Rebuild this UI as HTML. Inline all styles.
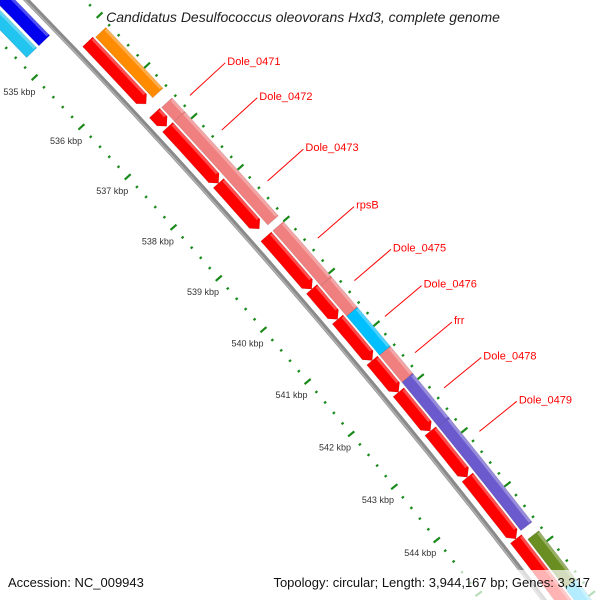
<!DOCTYPE html>
<html><head><meta charset="utf-8"><style>
html,body{margin:0;background:#fff;overflow:hidden;width:600px;height:600px}
svg{display:block;font-family:"Liberation Sans",sans-serif}
</style></head><body>
<svg id="map" width="600" height="600" viewBox="0 0 600 600" xmlns="http://www.w3.org/2000/svg">
<rect width="600" height="600" fill="#fff"/>
<g id="ticks"></g>
<path id="backbone" fill="none" stroke="#8a8a8a" stroke-width="5"/>
<path id="backbone2" fill="none" stroke="#b0b0b0" stroke-width="1.5"/>
<g id="feats"></g>
<g id="labels"></g>
<text x="303" y="22" text-anchor="middle" font-size="14" font-style="italic" fill="#222">Candidatus Desulfococcus oleovorans Hxd3, complete genome</text>
<rect x="0" y="570" width="600" height="30" fill="#fff" fill-opacity="0.7"/>
<text x="8" y="587" font-size="13" fill="#111">Accession: NC_009943</text>
<text x="590" y="587" text-anchor="end" font-size="13" fill="#111">Topology: circular; Length: 3,944,167 bp; Genes: 3,317</text>
</svg>
<script>
const featStart=[533.0,533.0,535.19,535.16,536.59,536.58,536.86,536.86,537.96,539.00,539.00,540.06,540.01,540.64,540.59,541.38,541.37,541.89,541.97,542.72,542.70,543.56,544.81,544.70,545.70];
const featEnd=[534.71,534.71,536.40,536.40,536.91,536.84,538.89,537.96,538.85,540.06,540.01,540.64,540.59,541.38,541.37,541.89,541.97,542.72,542.70,544.65,543.56,544.70,546.50,546.50,546.60];
const featTrack=['blue','cyan','outer','inner','outer','inner','outer','inner','inner','outer','inner','outer','inner','outer','inner','outer','inner','outer','inner','outer','inner','inner','outer','inner','outer'];
const featColor=['#0000ee','#22c4f0','#ff8c00','#ff0000','#f08080','#ff0000','#f08080','#ff0000','#ff0000','#f08080','#ff0000','#f08080','#ff0000','#00bfff','#ff0000','#f08080','#ff0000','#6a5acd','#ff0000','#6a5acd','#ff0000','#ff0000','#6b8e23','#ff0000','#00bfff'];
const featArrow=['start','none','none','end','none','end','none','end','end','none','end','none','end','none','end','none','end','none','end','none','end','end','none','end','none'];
const tickKbp=[534,535,536,537,538,539,540,541,542,543,544,545,546];
const tickLabels=['534 kbp','535 kbp','536 kbp','537 kbp','538 kbp','539 kbp','540 kbp','541 kbp','542 kbp','543 kbp','544 kbp','545 kbp','546 kbp'];
const geneNames=['Dole_0471','Dole_0472','Dole_0473','rpsB','Dole_0475','Dole_0476','frr','Dole_0478','Dole_0479'];
const geneKbp=[536.74,537.42,538.41,539.51,540.32,541.0,541.68,542.34,543.15];

const CX=-4620,CY=4531,A0=-43.13,DEG=0.606;
const R={gray:6490,inner:[6498,6512],outer:[6514,6528],blue:[6467,6482],cyan:[6450,6464],tickIn:6442,tickOut:6532,label:6421};
function ang(k){return (A0+(k-536)*DEG)*Math.PI/180;}
function pt(k,r){const a=ang(k);return [CX+r*Math.cos(a),CY+r*Math.sin(a)];}
function arc(k0,k1,r){const p0=pt(k0,r),p1=pt(k1,r);return `M${p0[0]},${p0[1]} A${r},${r} 0 0 1 ${p1[0]},${p1[1]}`;}
const NS='http://www.w3.org/2000/svg';
document.getElementById('backbone').setAttribute('d',arc(533,546.4,R.gray));
document.getElementById('backbone2').setAttribute('d',arc(533,546.4,R.gray-1.2));

const tg=document.getElementById('ticks');
for(let i=0;i<=70;i++){
  const k=533+i*0.2, big=Math.abs(k-Math.round(k))<0.01;
  [R.tickIn,R.tickOut].forEach(rc=>{
    const h=big?4:1.3;
    const a=pt(k,rc-h),b=pt(k,rc+h);
    const l=document.createElementNS(NS,'line');
    l.setAttribute('x1',a[0]);l.setAttribute('y1',a[1]);l.setAttribute('x2',b[0]);l.setAttribute('y2',b[1]);
    l.setAttribute('stroke','#1a8a1a');l.setAttribute('stroke-width','2.2');
    
    
    tg.appendChild(l);
  });
}
tickKbp.forEach((k,i)=>{
  const p=pt(k,R.label);
  if(p[1]>565||p[1]<0)return;
  const t=document.createElementNS(NS,'text');
  t.setAttribute('x',p[0]);t.setAttribute('y',p[1]+3);
  t.setAttribute('text-anchor','middle');t.setAttribute('font-size','9');t.setAttribute('fill','#333');
  t.textContent=tickLabels[i];
  
  
  tg.appendChild(t);
});

const fg=document.getElementById('feats');
featStart.forEach((s,i)=>{
  const e=featEnd[i],rr=R[featTrack[i]],r0=rr[0],r1=rr[1],rm=(r0+r1)/2,head=0.1;
  let pts=[];
  const seg=(a,b,r)=>{const n=6,o=[];for(let j=0;j<=n;j++)o.push(pt(a+(b-a)*j/n,r));return o;};
  if(featArrow[i]==='end'){
    const hs=e-head;
    pts=[...seg(s,hs,r1),pt(e,rm),...seg(hs,s,r0)];
  }else if(featArrow[i]==='start'){
    const hs=s+head;
    pts=[pt(s,rm),...seg(hs,e,r1),...seg(e,hs,r0)];
  }else{
    pts=[...seg(s,e,r1),...seg(e,s,r0)];
  }
  const p=document.createElementNS(NS,'polygon');
  p.setAttribute('points',pts.map(q=>q[0].toFixed(1)+','+q[1].toFixed(1)).join(' '));
  p.setAttribute('fill',featColor[i]);
  p.setAttribute('stroke','rgba(0,0,0,0.15)');p.setAttribute('stroke-width','0.6');
  
  
  fg.appendChild(p);
  const hl=document.createElementNS(NS,'path');
  hl.setAttribute('d',arc(s+0.02,e-(featArrow[i]==='end'?0.12:0.02),r1-1.5));
  hl.setAttribute('stroke','rgba(255,255,255,0.3)');hl.setAttribute('stroke-width','3');hl.setAttribute('fill','none');
  
  
  fg.appendChild(hl);
});

const lg=document.getElementById('labels');
geneNames.forEach((n,i)=>{
  const a=pt(geneKbp[i],6543),b=pt(geneKbp[i],6591);
  const l=document.createElementNS(NS,'line');
  l.setAttribute('x1',a[0]);l.setAttribute('y1',a[1]);l.setAttribute('x2',b[0]);l.setAttribute('y2',b[1]);
  l.setAttribute('stroke','#ff0000');l.setAttribute('stroke-width','1');
  
  
  lg.appendChild(l);
  const t=document.createElementNS(NS,'text');
  t.setAttribute('x',b[0]+2);t.setAttribute('y',b[1]+2);
  t.setAttribute('font-size','11');t.setAttribute('fill','#ff0000');
  t.textContent=n;
  
  
  lg.appendChild(t);
});
</script>
</body></html>
